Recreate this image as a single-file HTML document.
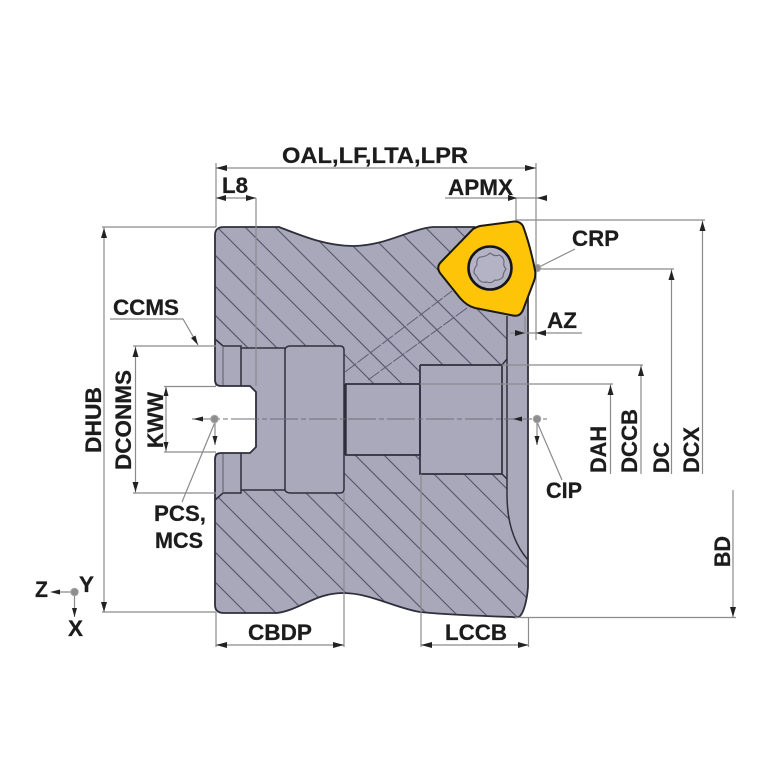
<!DOCTYPE html>
<html>
<head>
<meta charset="utf-8">
<style>
html,body{margin:0;padding:0;background:#fff;width:767px;height:767px;overflow:hidden}
svg{display:block;filter:blur(.35px)}
text{font-family:"Liberation Sans",Arial,sans-serif;font-weight:bold;font-size:22px;fill:#1c1c1c;stroke:#1c1c1c;stroke-width:.25}
</style>
</head>
<body>
<svg width="767" height="767" viewBox="0 0 767 767" xmlns="http://www.w3.org/2000/svg">
<defs>
<clipPath id="bodyclip"><path d="M215 235Q215 227 224 227L279 227C300 235 325 246 353 246C385 246 410 229 433 227L475 227L528 300L528 587C527 600 524 612 520 616Q518 618 512 617C480 616 450 615 420 612C395 608 370 593 343 593C315 593 300 610 277 613L224 613Q215 613 215 605L215 459Q215 453 221 453L250 453L256 447L256 392L250 386L221 386Q215 386 215 380Z"/></clipPath>
</defs>

<!-- body -->
<path d="M215 235Q215 227 224 227L279 227C300 235 325 246 353 246C385 246 410 229 433 227L475 227L528 300L528 587C527 600 524 612 520 616Q518 618 512 617C480 616 450 615 420 612C395 608 370 593 343 593C315 593 300 610 277 613L224 613Q215 613 215 605L215 459Q215 453 221 453L250 453L256 447L256 392L250 386L221 386Q215 386 215 380Z" fill="#a9a8bb"/>

<!-- hatch -->
<g clip-path="url(#bodyclip)">
<path fill="none" stroke="#5a5a6e" stroke-width="1.15" d="M448 220L530 302M418 220L530 332M388 220L530 362M356 220L530 394M327 220L530 423M298 220L530 452M268 220L530 482M238 220L530 512M210 220L530 540M210 250L530 570M210 281L530 601M210 310L520 620M210 339L491 620M210 368L462 620M210 397L433 620M210 427L403 620M210 457L373 620M210 489L341 620M210 517L313 620M210 547L283 620M210 577L253 620"/>
<path fill="none" stroke="#5e5e72" stroke-width="1" stroke-dasharray="14 1.5" d="M345 372L452 291M368 380L467 308"/>
</g>

<!-- bores -->
<path fill="#aaa9bc" d="M215 339L223 346L241 346L241 348L285 348L289 346L340 346Q344 346 344 350L344 384L420 384L420 365L502 365L507 359L507 479L502 474L420 474L420 455L344 455L344 489Q344 493 340 493L291 493Q286 493 285 490L241 490L241 493L223 493L215 500L215 453L256 453L256 386L215 386Z"/>
<path fill="#fff" d="M210 386L250 386L256 392L256 447L250 453L210 453Z"/>
<path fill="#aaa9bc" d="M507 305L528 295L528 560C515 545 507 525 507 495Z"/>

<!-- body details -->
<g fill="none" stroke="#2f2f3c" stroke-width="1.5">
<path d="M215 339L223 346L241 346L241 386"/>
<path d="M241 348L285 348"/>
<path d="M289 346L340 346Q344 346 344 350L344 489Q344 493 340 493L291 493Q286 493 285 490L285 350Q285 347 289 346"/>
<path d="M241 453L241 493L223 493L215 500"/>
<path d="M241 490L285 490"/>
<path d="M345 384L420 384L420 455L345 455" stroke-width="1.7"/>
<path d="M345.5 384L345.5 455" stroke-width="2.4"/>
<path d="M420 365L502 365L502 474L420 474L420 365" stroke-width="1.7"/>
<path d="M502 365L507 359M502 474L507 479"/>
<path d="M507 316L507 495C507 525 515 545 528 560"/>
<path d="M223 346L223 386M223 453L223 493" stroke="#5a5a6a" stroke-width="1"/>
<!-- outline -->
<path stroke-width="1.8" d="M528 295L528 587C527 600 524 612 520 616Q518 618 512 617C480 616 450 615 420 612C395 608 370 593 343 593C315 593 300 610 277 613L224 613Q215 613 215 605L215 459Q215 453 221 453L250 453L256 447L256 392L250 386L221 386Q215 386 215 380L215 235Q215 227 224 227L279 227C300 235 325 246 353 246C385 246 410 229 433 227L475 227"/>
</g>

<!-- dimension lines -->
<g fill="none" stroke="#8b8b8b" stroke-width="1.2">
<path d="M216 163L216 227M536 163L536 340M216 168L536 168"/>
<path d="M216 198L256 198M256 198L256 386"/>
<path d="M445 198L547 198M516 198L516 222"/>
<path d="M516 220L705 220M702.5 220L702.5 474"/>
<path d="M537 269L674 269M671.5 269L671.5 474"/>
<path d="M502 365L643 365M641 365L641 474"/>
<path d="M420 384L613 384M610.5 384L610.5 474"/>
<path d="M733 490L733 617M515 617.5L736 617.5"/>
<path d="M102 227L216 227M104 227L104 612M102 612L216 612"/>
<path d="M110 319L183 319L198 345"/>
<path d="M133 346L216 346M135.5 346L135.5 493M133 493L216 493"/>
<path d="M164 386.5L216 386.5M166 386.5L166 452M164 452L216 452"/>
<path d="M216 612L216 647M216 645L344 645M344 493L344 647"/>
<path d="M421 474L421 647M421 645L528.5 645M528.5 617L528.5 647"/>
<path d="M525 316L525 333M510 333L582 333"/>
<path d="M537 268L575 249M215 422L182 502M537 422L562 480"/>
<path d="M215 419L215 445M537 419L537 445"/>
<path d="M60 592L75 592M74.5 592L74.5 617"/>
</g>
<path fill="none" stroke="#6f6f78" stroke-width="1.1" stroke-dasharray="28 3 5 3" d="M192 419L547 419"/>

<!-- arrows -->
<g fill="#222">
<path d="M216 168L227 165L227 171Z"/>
<path d="M536 168L525 165L525 171Z"/>
<path d="M216 198L226 195L226 201Z"/>
<path d="M256 198L246 195L246 201Z"/>
<path d="M517 198L508 195L508 201Z"/>
<path d="M537 198L547 195L547 201Z"/>
<path d="M702.5 221L699.5 231L705.5 231Z"/>
<path d="M671.5 270L668.5 280L674.5 280Z"/>
<path d="M641 366L638 376L644 376Z"/>
<path d="M610.5 385L607.5 395L613.5 395Z"/>
<path d="M733 617L730 607L736 607Z"/>
<path d="M104 228L101 238L107 238Z"/>
<path d="M104 612L101 602L107 602Z"/>
<path d="M198 345L191 338L195.500 335.500Z"/>
<path d="M135.500 347L132.500 357L138.500 357Z"/>
<path d="M135.500 492L132.500 482L138.500 482Z"/>
<path d="M166 387L163.500 396L168.500 396Z"/>
<path d="M166 451L163.500 442L168.500 442Z"/>
<path d="M216 645L227 642L227 648Z"/>
<path d="M344 645L333 642L333 648Z"/>
<path d="M421 645L432 642L432 648Z"/>
<path d="M528.500 645L518 642L518 648Z"/>
<path d="M525 333L515 330L515 336Z"/>
<path d="M536 333L546 330L546 336Z"/>
<path d="M193 419L203 416.500L203 421.500Z"/>
<path d="M215 445L212.500 436L217.500 436Z"/>
<path d="M513 419L522 416.500L522 421.500Z"/>
<path d="M537 445L534.500 436L539.500 436Z"/>
<path d="M50 592L60 589.500L60 594.500Z"/>
<path d="M74.500 617L72 608L77 608Z"/>
</g>

<!-- points -->
<g fill="#8e8e8e" stroke="#a8a8a8" stroke-width="1">
<circle cx="214.500" cy="419" r="3.800"/>
<circle cx="537" cy="419" r="3.800"/>
<circle cx="537" cy="268" r="3.800"/>
<circle cx="74.500" cy="592" r="3.800"/>
</g>

<!-- insert -->
<path d="M440 273Q436 267 441 262L473 229Q476 227 480 226L514 221.500Q520 221 523 226Q530 245 535 270Q536 276 534 281L523 310Q520 317 513 315.500L475 308Q467 306 460 298Z" fill="#fdc408" stroke="#1c1a10" stroke-width="2"/>
<circle cx="490" cy="268" r="21.500" fill="#b4b3c5" stroke="#15151c" stroke-width="2.600"/>
<path d="M490 253Q495 257 499 255Q504 257 504 262Q503 266 506 269Q503 273 503 277Q499 281 495 280Q491 284 487 282Q482 283 479 280Q477 276 474 273Q474 268 477 265Q476 259 480 257Q486 257 490 253Z" fill="none" stroke="#6a6a78" stroke-width="1.200"/>

<!-- labels -->
<text x="282" y="163" textLength="186" lengthAdjust="spacingAndGlyphs">OAL,LF,LTA,LPR</text>
<text x="222" y="193" textLength="26" lengthAdjust="spacingAndGlyphs">L8</text>
<text x="448" y="195" textLength="65" lengthAdjust="spacingAndGlyphs">APMX</text>
<text x="572" y="246" textLength="47" lengthAdjust="spacingAndGlyphs">CRP</text>
<text x="547" y="328" textLength="30" lengthAdjust="spacingAndGlyphs">AZ</text>
<text x="113" y="315" textLength="66" lengthAdjust="spacingAndGlyphs">CCMS</text>
<text x="154" y="521" textLength="52" lengthAdjust="spacingAndGlyphs">PCS,</text>
<text x="155" y="548" textLength="48" lengthAdjust="spacingAndGlyphs">MCS</text>
<text x="35" y="597" textLength="13" lengthAdjust="spacingAndGlyphs">Z</text>
<text x="79" y="592" textLength="15" lengthAdjust="spacingAndGlyphs">Y</text>
<text x="68" y="636" textLength="15" lengthAdjust="spacingAndGlyphs">X</text>
<text x="248" y="640" textLength="64" lengthAdjust="spacingAndGlyphs">CBDP</text>
<text x="445" y="640" textLength="62" lengthAdjust="spacingAndGlyphs">LCCB</text>
<text x="546" y="498" textLength="36" lengthAdjust="spacingAndGlyphs">CIP</text>
<text transform="translate(101,453) rotate(-90)" textLength="66" lengthAdjust="spacingAndGlyphs">DHUB</text>
<text transform="translate(131,470) rotate(-90)" textLength="100" lengthAdjust="spacingAndGlyphs">DCONMS</text>
<text transform="translate(163,448) rotate(-90)" textLength="56" lengthAdjust="spacingAndGlyphs">KWW</text>
<text transform="translate(606,473) rotate(-90)" textLength="47" lengthAdjust="spacingAndGlyphs">DAH</text>
<text transform="translate(637,473) rotate(-90)" textLength="64" lengthAdjust="spacingAndGlyphs">DCCB</text>
<text transform="translate(669,473) rotate(-90)" textLength="31" lengthAdjust="spacingAndGlyphs">DC</text>
<text transform="translate(699,473) rotate(-90)" textLength="46" lengthAdjust="spacingAndGlyphs">DCX</text>
<text transform="translate(730,567) rotate(-90)" textLength="31" lengthAdjust="spacingAndGlyphs">BD</text>
</svg>
</body>
</html>
